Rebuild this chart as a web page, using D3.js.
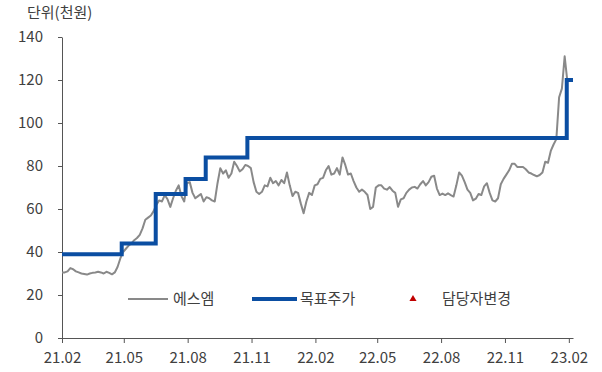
<!DOCTYPE html>
<html>
<head>
<meta charset="utf-8">
<script src="https://cdn.jsdelivr.net/npm/d3@7"></script>
<style>
  body { margin: 0; background: #fff; }
  text { font-family: "Noto Sans CJK KR", "Noto Sans", sans-serif; }
</style>
</head>
<body>
<div id="chart"></div>
<script>
// 에스엠 주가 (천원), 4일 간격 샘플, 2021-02-01 시작
const priceStart = "2021-02-01";
const priceStepDays = 4;
const priceValues = [
  30.5, 30.5, 31, 32.5, 32, 31, 30.5, 30, 29.8, 29.5,
  30, 30.3, 30.5, 30.8, 30.5, 30, 30.8, 30.3, 29.6, 30.5,
  33, 37, 40, 41.5, 43, 44, 45.5, 46.5, 48, 51,
  55, 56, 57, 59, 62, 64, 63.5, 66.5, 64.5, 61,
  65, 68.5, 71, 66, 63.5, 72, 72.5, 67.5, 65, 66,
  67, 63.5, 65.5, 65, 64, 63.5, 72, 79, 76.5, 78,
  74.5, 76.5, 82, 80, 77.5, 78.5, 80.5, 80, 79, 72.5,
  68, 67, 68, 71, 70.5, 74.5, 72, 73, 71, 73.5,
  72, 77, 71, 66, 68, 67.5, 62.5, 58, 63.5, 67.5,
  66.5, 71, 71.5, 74, 74.5, 78, 80, 76, 76.5, 79,
  76, 84, 80.5, 76, 76.5, 73, 70, 68, 69, 68,
  66.5, 60, 61, 70, 71, 71, 69.5, 69, 70.2, 68.5,
  67.5, 61, 64.5, 65, 67.5, 69, 70, 70.3, 69.5, 71.5,
  73, 71, 72.5, 75, 75.5, 69.5, 66.5, 67.2, 66.5, 67.3,
  66.5, 65.8, 71, 77, 75.5, 72.5, 69, 67.5, 64, 64.8,
  67, 66.5, 70.5, 72, 67.5, 64, 63.5, 65, 71.5, 74,
  76, 78, 81, 81, 79.5, 79.5, 79.5, 78.5, 77, 76.5,
  75.8, 75.2, 75.8, 77, 82, 81.5, 87, 90, 92.5, 112,
  116, 131, 119
];

// 목표주가 변경일, 값
const targetDates = ["2021-02-01", "2021-04-28", "2021-06-16", "2021-07-29", "2021-08-27", "2021-10-26", "2023-01-29", "2023-02-07"];
const targetValues = [39, 44, 67, 74, 84, 93, 120, 120];

const xTickLabels = ["21.02", "21.05", "21.08", "21.11", "22.02", "22.05", "22.08", "22.11", "23.02"];
const yTicks = [0, 20, 40, 60, 80, 100, 120, 140];
const legendLabels = ["에스엠", "목표주가", "담당자변경"];

const width = 602, height = 372;
const svg = d3.select("#chart").append("svg")
    .attr("width", width)
    .attr("height", height);

const parse = d3.timeParse("%Y-%m-%d");
const parseTick = d3.timeParse("%y.%m");
const start = parse(priceStart);
const price = priceValues.map((v, i) => ({ date: d3.timeDay.offset(start, i * priceStepDays), value: v }));
const target = targetDates.map((d, i) => ({ date: parse(d), value: targetValues[i] }));

const x = d3.scaleTime()
    .domain([parse("2021-02-01"), parse("2023-02-07")])
    .range([62, 573]);
const y = d3.scaleLinear()
    .domain([0, 140])
    .range([338, 37]);

const axisColor = "#555";
const textColor = "#404040";

// y axis
const yAxis = svg.append("g")
    .attr("transform", "translate(62,0)")
    .call(d3.axisLeft(y).tickValues(yTicks).tickSize(4).tickPadding(15).tickSizeOuter(0));
yAxis.select(".domain").attr("stroke", axisColor);
yAxis.selectAll(".tick line").attr("stroke", axisColor);
yAxis.selectAll("text").attr("font-size", "15px").attr("fill", textColor)
    .style("font-family", "'Noto Sans CJK KR', 'Noto Sans', sans-serif");

// x axis
const xAxis = svg.append("g")
    .attr("transform", "translate(0,338)")
    .call(d3.axisBottom(x)
        .tickValues(xTickLabels.map(parseTick))
        .tickFormat(d3.timeFormat("%y.%m"))
        .tickSize(5).tickPadding(9).tickSizeOuter(0));
xAxis.select(".domain").attr("stroke", axisColor);
xAxis.selectAll(".tick line").attr("stroke", axisColor);
xAxis.selectAll("text").attr("font-size", "15px").attr("fill", textColor)
    .style("font-family", "'Noto Sans CJK KR', 'Noto Sans', sans-serif");

// unit label
svg.append("text")
    .attr("x", 27)
    .attr("y", 18)
    .attr("font-size", "15px")
    .attr("fill", textColor)
    .text("단위(천원)");

// price line
const priceLine = d3.line()
    .x(d => x(d.date))
    .y(d => y(d.value));
svg.append("path")
    .attr("fill", "none")
    .attr("stroke", "#898989")
    .attr("stroke-width", 2)
    .attr("stroke-linejoin", "round")
    .attr("d", priceLine(price));

// target price
const targetLine = d3.line()
    .curve(d3.curveStepAfter)
    .x(d => x(d.date))
    .y(d => y(d.value));
svg.append("path")
    .attr("fill", "none")
    .attr("stroke", "#0B4EA2")
    .attr("stroke-width", 4)
    .attr("d", targetLine(target));

// legend
const legend = svg.append("g");
legend.append("line")
    .attr("x1", 128).attr("x2", 168)
    .attr("y1", 299).attr("y2", 299)
    .attr("stroke", "#898989").attr("stroke-width", 2);
legend.append("text")
    .attr("x", 173).attr("y", 304)
    .attr("font-size", "15px").attr("fill", textColor)
    .text(legendLabels[0]);
legend.append("line")
    .attr("x1", 252).attr("x2", 297)
    .attr("y1", 299).attr("y2", 299)
    .attr("stroke", "#0B4EA2").attr("stroke-width", 4);
legend.append("text")
    .attr("x", 300).attr("y", 304)
    .attr("font-size", "15px").attr("fill", textColor)
    .text(legendLabels[1]);
legend.append("path")
    .attr("transform", "translate(413,299)")
    .attr("d", d3.symbol(d3.symbolTriangle, 22)())
    .attr("fill", "#C00000");
legend.append("text")
    .attr("x", 442).attr("y", 304)
    .attr("font-size", "15px").attr("fill", textColor)
    .text(legendLabels[2]);
</script>
</body>
</html>
